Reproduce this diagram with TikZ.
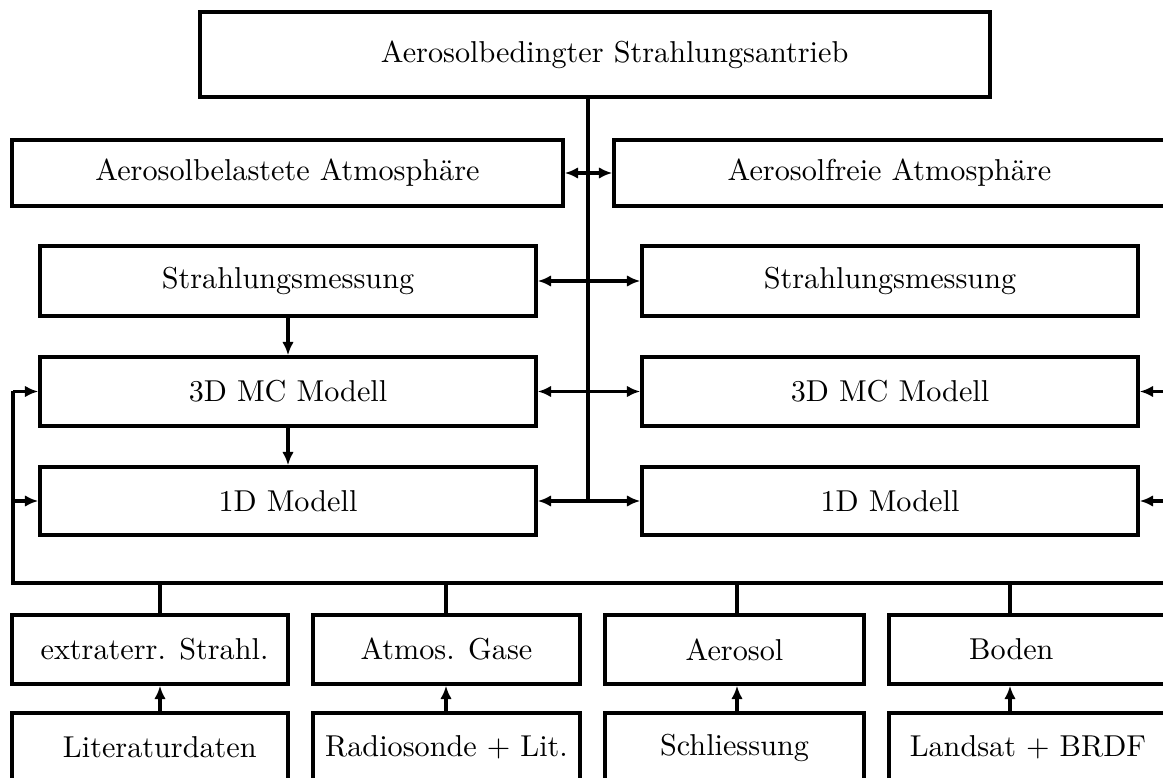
\documentclass[tikz,border=0pt]{standalone}
\usepackage{tikz}
\usetikzlibrary{arrows.meta}
\newcommand{\pxu}{0.331pt}
\tikzset{
    kasten/.style={draw, line width=1.15pt, inner sep=0pt, align=center},
    links/.style={execute at begin node={\hspace*{#1}}},
    rechts/.style={execute at end node={\hspace*{#1}}},
    link/.style={line width=1.15pt},
    pfeil/.style={line width=1.15pt, -{Latex[length=4.4pt, width=3.8pt]}},
}

\begin{document}
\begin{tikzpicture}[x=\pxu, y=-\pxu]
        \useasboundingbox (0,0) rectangle (1163,778);
        \clip (0,0) rectangle (1163,778);
        % obere Ebene
        \node[kasten, links=13pt, minimum width=790*\pxu, minimum height=85*\pxu] (antrieb) at (595,54.5) {Aerosolbedingter Strahlungsantrieb};
        \node[kasten, minimum width=551*\pxu, minimum height=66*\pxu] (belastet) at (287.5,173) {Aerosolbelastete Atmosphäre};
        \node[kasten, minimum width=551*\pxu, minimum height=66*\pxu] (frei) at (889.5,173) {Aerosolfreie Atmosphäre};
        % Messung und Modelle
        \node[kasten, minimum width=496*\pxu, minimum height=70*\pxu] (messL) at (288,281) {Strahlungsmessung};
        \node[kasten, minimum width=496*\pxu, minimum height=70*\pxu] (messR) at (890,281) {Strahlungsmessung};
        \node[kasten, minimum width=496*\pxu, minimum height=69*\pxu] (mcL) at (288,391.5) {3D MC Modell};
        \node[kasten, minimum width=496*\pxu, minimum height=69*\pxu] (mcR) at (890,391.5) {3D MC Modell};
        \node[kasten, minimum width=496*\pxu, minimum height=68*\pxu] (eindL) at (288,501) {1D Modell};
        \node[kasten, minimum width=496*\pxu, minimum height=68*\pxu] (eindR) at (890,501) {1D Modell};
        % Eingangsgroessen
        \node[kasten, links=3pt, minimum width=276*\pxu, minimum height=69*\pxu] (strahl) at (150,649.5) {extraterr. Strahl.};
        \node[kasten, minimum width=267*\pxu, minimum height=69*\pxu] (gase) at (446.5,649.5) {Atmos. Gase};
        \node[kasten, minimum width=259*\pxu, minimum height=69*\pxu] (aerosol) at (734.5,649.5) {Aerosol};
        \node[kasten, rechts=15pt, minimum width=290*\pxu, minimum height=69*\pxu] (boden) at (1034,649.5) {Boden};
        \node[kasten, links=6.5pt, minimum width=276*\pxu, minimum height=69*\pxu] (lit) at (150,747.5) {Literaturdaten};
        \node[kasten, minimum width=267*\pxu, minimum height=69*\pxu] (sonde) at (446.5,747.5) {Radiosonde + Lit.};
        \node[kasten, minimum width=259*\pxu, minimum height=69*\pxu] (schl) at (734.5,747.5) {Schliessung};
        \node[kasten, rechts=4pt, minimum width=290*\pxu, minimum height=69*\pxu] (land) at (1034,747.5) {Landsat + BRDF};
        % Verbindungen
        \coordinate (stamm) at (588,502);
        \coordinate (busL) at (13,583);
        \coordinate (busR) at (1190,583);
        \coordinate (k1) at (160,583);
        \coordinate (k2) at (446,583);
        \coordinate (k3) at (737,583);
        \coordinate (k4) at (1010,583);
        \draw[link] (antrieb.south -| stamm) -- (stamm);
        \draw[pfeil] (stamm |- belastet.east) -- (belastet.east);
        \draw[pfeil] (stamm |- frei.west) -- (frei.west);
        \foreach \li/\re in {messL/messR, mcL/mcR, eindL/eindR} {
            \draw[pfeil] (stamm |- \li.east) -- (\li.east);
            \draw[pfeil] (stamm |- \re.west) -- (\re.west);
        }
        \draw[pfeil] (messL) -- (mcL);
        \draw[pfeil] (mcL) -- (eindL);
        \draw[link] (busR) -- (busL) -- (busL |- mcL.west);
        \draw[pfeil] (busL |- mcL.west) -- (mcL.west);
        \draw[pfeil] (busL |- eindL.west) -- (eindL.west);
        \draw[link] (busR) -- (busR |- mcR.east);
        \draw[pfeil] (busR |- mcR.east) -- (mcR.east);
        \draw[pfeil] (busR |- eindR.east) -- (eindR.east);
        \foreach \k/\oben/\unten in {k1/strahl/lit, k2/gase/sonde, k3/aerosol/schl, k4/boden/land} {
            \draw[link] (\k) -- (\k |- \oben.north);
            \draw[pfeil] (\k |- \unten.north) -- (\k |- \oben.south);
        }
    \end{tikzpicture}
\end{document}
